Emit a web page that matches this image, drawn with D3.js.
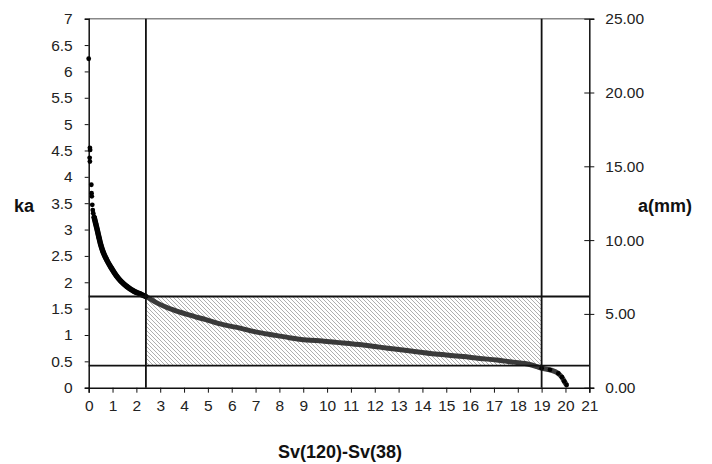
<!DOCTYPE html>
<html>
<head>
<meta charset="utf-8">
<script src="https://cdn.jsdelivr.net/npm/d3@7"></script>
<style>
body { margin: 0; background: #fff; }
text { font-family: "Liberation Sans", Arial, sans-serif; fill: #222; }
.lab { font-weight: bold; fill: #111; }
</style>
</head>
<body>
<svg id="chart" width="712" height="464"></svg>
<script>
// scattered first points near x = 0
var outliers = [
	[0.00, 6.24], [0.05, 4.55], [0.06, 4.51], [0.04, 4.36], [0.05, 4.29],
	[0.11, 3.85], [0.12, 3.69], [0.13, 3.63], [0.15, 3.47], [0.17, 3.37], [0.19, 3.31]
];
// the dense part of the series
var curve = [
	[0.22, 3.25], [0.29, 3.12], [0.36, 2.99], [0.43, 2.85], [0.50, 2.72], [0.60, 2.58],
	[0.75, 2.43], [0.95, 2.27], [1.15, 2.13], [1.35, 2.02], [1.60, 1.92], [1.90, 1.83],
	[2.15, 1.78], [2.40, 1.73], [2.90, 1.60], [3.55, 1.475], [4.20, 1.38], [4.95, 1.285],
	[5.60, 1.20], [6.35, 1.13], [7.00, 1.06], [7.74, 1.00], [8.40, 0.95], [9.14, 0.905],
	[9.80, 0.885], [10.40, 0.86], [11.52, 0.81], [12.20, 0.77], [12.92, 0.73], [13.60, 0.69],
	[14.32, 0.65], [15.00, 0.62], [15.71, 0.59], [16.40, 0.555], [17.11, 0.526], [17.80, 0.485],
	[18.50, 0.44], [18.80, 0.40], [19.00, 0.37], [19.35, 0.34], [19.70, 0.27], [19.85, 0.20],
	[19.95, 0.12], [20.05, 0.05]
];
// reference lines
var vLines = [2.4, 19.0];
var hLines = [1.73, 0.42];
var xTicks = d3.range(0, 22);
var yTicks = [0, 0.5, 1, 1.5, 2, 2.5, 3, 3.5, 4, 4.5, 5, 5.5, 6, 6.5, 7];
var y2Ticks = [0, 5, 10, 15, 20, 25];

var svg = d3.select("#chart");
var plotLeft = 88.7, plotRight = 589.3, plotTop = 18.7, plotBottom = 387.7;

var x = d3.scaleLinear().domain([0, 21]).range([plotLeft, plotRight]);
var y = d3.scaleLinear().domain([0, 7]).range([plotBottom, plotTop]);
var y2 = d3.scaleLinear().domain([0, 25]).range([plotBottom, plotTop]);

// hatch pattern
var defs = svg.append("defs");
defs.append("pattern")
	.attr("id", "hatch")
	.attr("patternUnits", "userSpaceOnUse")
	.attr("width", 4).attr("height", 4)
	.append("path")
	.attr("d", "M-1,-1 L5,5 M-1,3 L1,5 M3,-1 L5,1")
	.attr("stroke", "#9a9a9a")
	.attr("stroke-width", 0.8);

// hatched rectangle
svg.append("rect")
	.attr("x", x(vLines[0]))
	.attr("y", y(hLines[0]))
	.attr("width", x(vLines[1]) - x(vLines[0]))
	.attr("height", y(hLines[1]) - y(hLines[0]))
	.attr("fill", "url(#hatch)");

// top border
svg.append("line")
	.attr("x1", plotLeft).attr("x2", plotRight)
	.attr("y1", plotTop).attr("y2", plotTop)
	.attr("stroke", "#888").attr("stroke-width", 1.5);

// axes
var xAxis = svg.append("g")
	.attr("transform", "translate(0," + plotBottom + ")")
	.call(d3.axisBottom(x).tickValues(xTicks).tickSize(5).tickPadding(7).tickFormat(d3.format("d")));
xAxis.selectAll("text").style("font-size", "15.5px");

var yAxis = svg.append("g")
	.attr("transform", "translate(" + plotLeft + ",0)")
	.call(d3.axisLeft(y).tickValues(yTicks).tickSize(4).tickPadding(12).tickFormat(d3.format("")));
yAxis.selectAll("text").style("font-size", "15.5px");

var y2Axis = svg.append("g")
	.attr("transform", "translate(" + plotRight + ",0)")
	.call(d3.axisRight(y2).tickValues(y2Ticks).tickSize(5).tickPadding(11).tickFormat(d3.format(".2f")));
y2Axis.selectAll("text").style("font-size", "15.5px");
y2Axis.selectAll(".tick line").attr("x1", -5);

[xAxis, yAxis, y2Axis].forEach(function(a) {
	a.select(".domain").attr("stroke", "#111").attr("stroke-width", 1.5);
	a.selectAll(".tick line").attr("stroke", "#111");
});

// series line band
var line = d3.line().x(function(d) { return x(d[0]); }).y(function(d) { return y(d[1]); }).curve(d3.curveMonotoneX);
svg.append("path")
	.datum(curve)
	.attr("fill", "none")
	.attr("stroke", "#3a3a3a")
	.attr("stroke-width", 5)
	.attr("d", line);
// steep part is darker and thicker
svg.append("path")
	.datum(curve.slice(0, 14))
	.attr("fill", "none")
	.attr("stroke", "#000")
	.attr("stroke-width", 5.5)
	.attr("d", line);

svg.append("g").selectAll("circle")
	.data(outliers.concat(curve.slice(0, 14)).concat(curve.slice(-6)))
	.enter().append("circle")
	.attr("cx", function(d) { return x(d[0]); })
	.attr("cy", function(d) { return y(d[1]); })
	.attr("r", 2.4)
	.attr("fill", "#000");

// reference lines
svg.append("g").selectAll("line")
	.data(vLines).enter().append("line")
	.attr("x1", function(d) { return x(d); }).attr("x2", function(d) { return x(d); })
	.attr("y1", plotTop).attr("y2", plotBottom)
	.attr("stroke", "#111").attr("stroke-width", 1.8);

svg.append("g").selectAll("line")
	.data(hLines).enter().append("line")
	.attr("x1", plotLeft).attr("x2", plotRight)
	.attr("y1", function(d) { return y(d); }).attr("y2", function(d) { return y(d); })
	.attr("stroke", "#111").attr("stroke-width", 1.8);

// labels
svg.append("text").attr("class", "lab").attr("x", 14).attr("y", 212)
	.style("font-size", "18px").text("ka");
svg.append("text").attr("class", "lab").attr("x", 638).attr("y", 212)
	.style("font-size", "18px").text("a(mm)");
svg.append("text").attr("class", "lab").attr("x", 340).attr("y", 458)
	.attr("text-anchor", "middle").style("font-size", "18px").text("Sv(120)-Sv(38)");
</script>
</body>
</html>
